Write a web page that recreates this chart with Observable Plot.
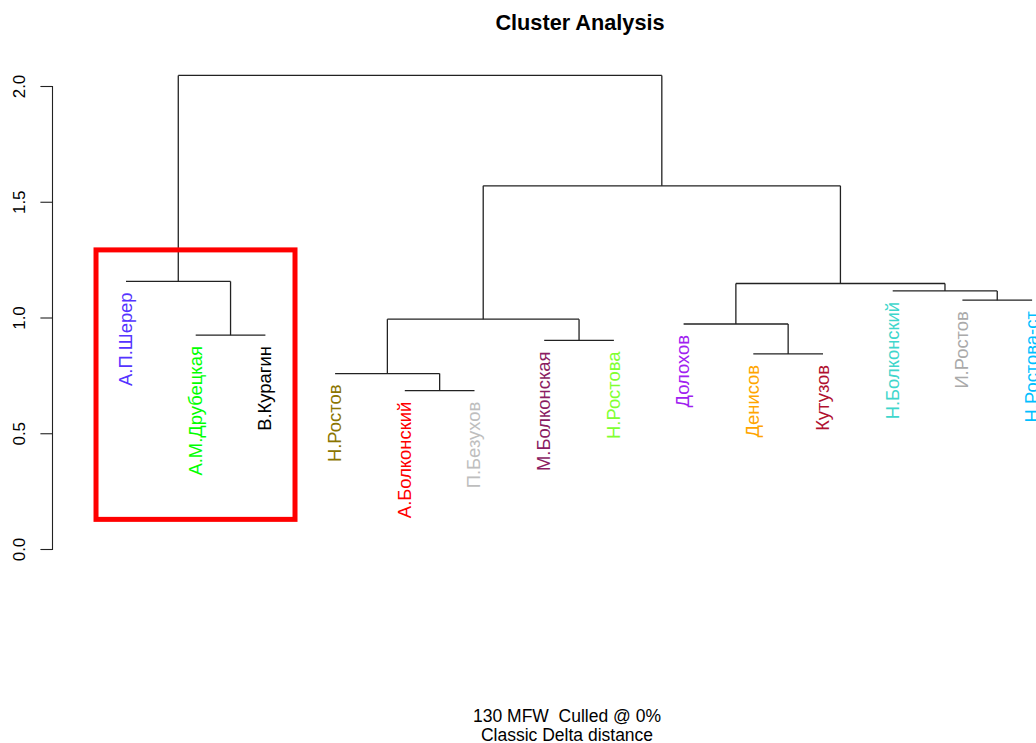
<!DOCTYPE html>
<html>
<head>
<meta charset="utf-8">
<script src="https://cdn.jsdelivr.net/npm/d3@7"></script>
<script src="https://cdn.jsdelivr.net/npm/@observablehq/plot@0.6"></script>
<style>
  html, body { margin: 0; padding: 0; background: #fff; }
  body { width: 1036px; height: 743px; overflow: hidden; font-family: "Liberation Sans", Arial, Helvetica, sans-serif; }
  #title { height: 44px; box-sizing: border-box; padding-top: 2px; line-height: 42px; font-weight: bold; font-size: 21.7px; text-align: center; padding-left: 124px; color: #000; }
  #chart svg { display: block; }
  #caption { height: 43px; box-sizing: border-box; padding-top: 6.5px; padding-left: 98px; text-align: center; font-size: 17.5px; line-height: 19px; color: #000; }
</style>
</head>
<body>
<div id="title">Cluster Analysis</div>
<div id="chart"></div>
<div id="caption">130 MFW&nbsp; Culled @ 0%<br>Classic Delta distance</div>
<script>
// Leaves in dendrogram order, with their class colours
const leafLabels = [
  "А.П.Шерер", "А.М.Друбецкая", "В.Курагин", "Н.Ростов", "А.Болконскии\u0306",
  "П.Безухов", "М.Болконская", "Н.Ростова", "Долохов", "Денисов",
  "Кутузов", "Н.Болконскии\u0306", "И.Ростов", "Н.Ростова-ст"
];
const leafColors = [
  "#5533ff", "#00ff00", "#000000", "#8b7500", "#ff0000",
  "#bebebe", "#8b1c62", "#80ff30", "#a020f0", "#ffa500",
  "#b01030", "#3fd6cc", "#aaaaaa", "#00bfff"
];

// hclust-style merge table: negative = leaf (1-based position), positive = earlier merge
const mergeLeft   = [-5, -4, -10, -7, -2, -9, 2, -13, -12, 6, -1, 7, 11];
const mergeRight  = [-6,  1, -11, -8, -3,  3, 4, -14,   8, 9,  5, 10, 12];
const mergeHeight = [0.686, 0.760, 0.845, 0.903, 0.926, 0.974, 0.995,
                     1.077, 1.117, 1.149, 1.158, 1.571, 2.048];

const yTicks = [0, 0.5, 1.0, 1.5, 2.0];

// highlighted cluster box
const boxX = [0.577, 3.432];
const boxY = [0.128, 1.292];

// --- build dendrogram geometry in data coordinates ---
const nodeX = [], nodeH = [];
const segments = [];
const leaves = [];
function childPos(c) {
  return c < 0 ? {x: -c, h: null} : {x: nodeX[c - 1], h: nodeH[c - 1]};
}
mergeLeft.forEach((l, i) => {
  const r = mergeRight[i], h = mergeHeight[i];
  const L = childPos(l), R = childPos(r);
  nodeX.push((L.x + R.x) / 2);
  nodeH.push(h);
  segments.push({x1: L.x, y1: h, x2: R.x, y2: h});
  for (const [c, P] of [[l, L], [r, R]]) {
    if (c > 0) segments.push({x1: P.x, y1: P.h, x2: P.x, y2: h});
    else leaves.push({x: P.x, y: h, label: leafLabels[-c - 1], color: leafColors[-c - 1]});
  }
});

const font = '"Liberation Sans", Arial, Helvetica, sans-serif';

const chart = Plot.plot({
  width: 1036,
  height: 656,
  marginLeft: 52,
  marginRight: 0,
  marginTop: 42,
  marginBottom: 151,
  x: {domain: [1, 14], range: [125.5, 1031.6], axis: null},
  y: {domain: [0, 2]},
  style: {fontFamily: font, background: "#fff", overflow: "hidden"},
  marks: [
    Plot.frame({anchor: "left", stroke: "#222", strokeWidth: 1.1}),
    Plot.axisY({ticks: yTicks, tickSize: 11.6, tickFormat: () => "", label: null, stroke: "#222", strokeWidth: 1.1}),
    Plot.text(yTicks, {
      y: d => d, frameAnchor: "left", dx: -33, rotate: -90,
      text: d3.format(".1f"), textAnchor: "middle", lineAnchor: "middle",
      fontSize: 17, fill: "#000"
    }),
    Plot.link(segments, {x1: "x1", y1: "y1", x2: "x2", y2: "y2", stroke: "#222", strokeWidth: 1.3}),
    Plot.text(leaves, {
      x: "x", y: "y", text: "label", fill: "color", rotate: -90,
      textAnchor: "end", lineAnchor: "middle", dy: 11, fontSize: 18.4
    }),
    Plot.rect([{x1: boxX[0], x2: boxX[1], y1: boxY[0], y2: boxY[1]}], {
      x1: "x1", x2: "x2", y1: "y1", y2: "y2", fill: "none", stroke: "#ff0000", strokeWidth: 5
    })
  ]
});
document.getElementById("chart").appendChild(chart);
</script>
</body>
</html>
